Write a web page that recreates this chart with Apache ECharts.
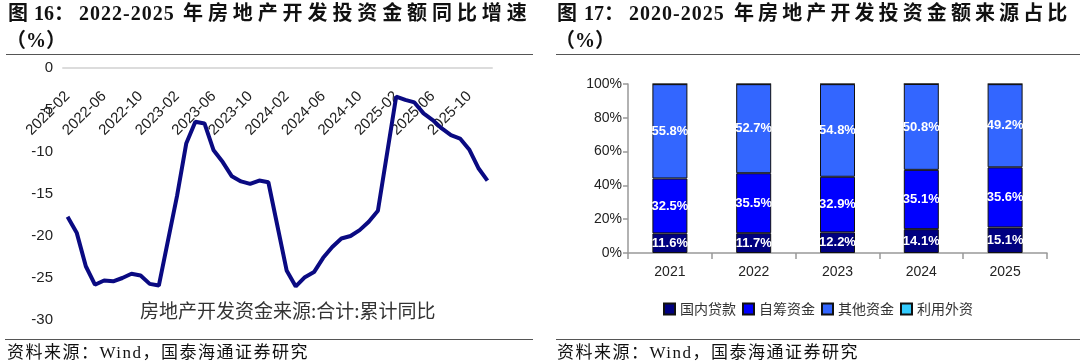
<!DOCTYPE html>
<html>
<head>
<meta charset="utf-8">
<script src="https://cdn.jsdelivr.net/npm/echarts@6/dist/echarts.min.js"></script>
<style>
html,body{margin:0;padding:0;background:#fff;}
#wrap{position:relative;width:1080px;height:364px;overflow:hidden;background:#fff;}
#chart{position:absolute;left:0;top:0;width:1080px;height:364px;}
.tt{position:absolute;font-family:'Liberation Serif','Noto Sans CJK SC',serif;font-weight:bold;font-size:20px;color:#111;line-height:24px;white-space:nowrap;}
.rule{position:absolute;height:1px;background:#555;}
.src{position:absolute;font-family:'Liberation Serif','Noto Sans CJK SC',serif;font-size:17px;color:#111;line-height:20px;letter-spacing:1.5px;white-space:nowrap;}
</style>
</head>
<body>
<div id="wrap">
  <div id="chart"></div>
  <!-- left title -->
  <div class="tt" style="left:8px;top:1px;">图</div>
  <div class="tt" style="left:34px;top:1px;">16：</div>
  <div class="tt" style="left:79px;top:1px;letter-spacing:1px;">2022-2025</div>
  <div class="tt" style="left:183px;top:1px;letter-spacing:4.9px;">年房地产开发投资金额同比增速</div>
  <div class="tt" style="left:6px;top:28px;">（%）</div>
  <div class="rule" style="left:6px;top:54px;width:527px;"></div>
  <!-- right title -->
  <div class="tt" style="left:557px;top:1px;">图</div>
  <div class="tt" style="left:584px;top:1px;">17：</div>
  <div class="tt" style="left:629px;top:1px;letter-spacing:1px;">2020-2025</div>
  <div class="tt" style="left:734px;top:1px;letter-spacing:4.1px;">年房地产开发投资金额来源占比</div>
  <div class="tt" style="left:555px;top:28px;">（%）</div>
  <div class="rule" style="left:556px;top:54px;width:524px;"></div>
  <!-- sources -->
  <div class="rule" style="left:5px;top:339px;width:528px;"></div>
  <div class="src" style="left:7px;top:343px;">资料来源：Wind，国泰海通证券研究</div>
  <div class="rule" style="left:556px;top:339px;width:524px;"></div>
  <div class="src" style="left:557px;top:343px;">资料来源：Wind，国泰海通证券研究</div>
</div>
<script>
// ---------- Left chart data ----------
const lineName = '房地产开发资金来源:合计:累计同比';
const months = [
  '2022-02','2022-03','2022-04','2022-05','2022-06','2022-07','2022-08','2022-09','2022-10','2022-11','2022-12',
  '2023-01','2023-02','2023-03','2023-04','2023-05','2023-06','2023-07','2023-08','2023-09','2023-10','2023-11','2023-12',
  '2024-01','2024-02','2024-03','2024-04','2024-05','2024-06','2024-07','2024-08','2024-09','2024-10','2024-11','2024-12',
  '2025-01','2025-02','2025-03','2025-04','2025-05','2025-06','2025-07','2025-08','2025-09','2025-10','2025-11','2025-12'
];
const fundingYoY = [
  -17.7,-19.6,-23.6,-25.8,-25.3,-25.4,-25.0,-24.5,-24.7,-25.7,-25.9,
  null,-15.2,-9.0,-6.4,-6.6,-9.8,-11.2,-12.9,-13.5,-13.8,-13.4,-13.6,
  null,-24.1,-26.0,-24.9,-24.3,-22.6,-21.3,-20.3,-20.0,-19.3,-18.3,-17.0,
  null,-3.4,-3.8,-4.1,-5.4,-6.2,-7.2,-8.0,-8.4,-9.7,-11.9,-13.4
];

// ---------- Right chart data ----------
const years = ['2021','2022','2023','2024','2025'];
const domesticLoans = [11.6, 11.7, 12.2, 14.1, 15.1];
const selfRaised   = [32.5, 35.5, 32.9, 35.1, 35.6];
const otherFunds   = [55.8, 52.7, 54.8, 50.8, 49.2];
const foreignFunds = [0.1, 0.1, 0.1, 0.0, 0.1];
const barNames = ['国内贷款','自筹资金','其他资金','利用外资'];
const barColors = ['#000080','#0000ff','#3366ff','#33ccff'];

const chart = echarts.init(document.getElementById('chart'));
const sans = "'Liberation Sans', Arial, sans-serif";
const cjk = "'Noto Sans CJK SC', sans-serif";

function barSeries(name, data, color, showLabel) {
  return {
    name: name, type: 'bar', stack: 'src', xAxisIndex: 1, yAxisIndex: 1,
    barWidth: 35, data: data,
    itemStyle: { color: color, borderColor: '#111', borderWidth: 1 },
    label: {
      show: showLabel, position: 'inside', color: '#fff', fontWeight: 'bold',
      fontSize: 13, fontFamily: sans, formatter: '{c}%'
    },
    emphasis: { disabled: true }
  };
}

chart.setOption({
  animation: false,
  textStyle: { fontFamily: sans },
  grid: [
    { left: 63, top: 68, width: 429, height: 252 },
    { left: 628, top: 84, width: 419, height: 169 }
  ],
  legend: [
    {
      data: [{ name: lineName, icon: 'none' }],
      left: 130, top: 296, itemWidth: 0, itemHeight: 0, itemGap: 0,
      textStyle: { fontFamily: cjk, fontSize: 19, color: '#333' },
      selectedMode: false
    },
    {
      data: barNames,
      left: 658, top: 297, itemWidth: 11, itemHeight: 11, itemGap: 6,
      icon: 'rect',
      textStyle: { fontFamily: cjk, fontSize: 14, color: '#333' },
      selectedMode: false
    }
  ],
  xAxis: [
    {
      gridIndex: 0, type: 'category', data: months, boundaryGap: true,
      position: 'bottom', offset: -252,
      axisLine: { show: true, onZero: false, lineStyle: { color: '#dcdcdc', width: 2 } },
      axisTick: { show: false },
      axisLabel: { interval: 3, rotate: 45, fontSize: 15, color: '#222', margin: 26 },
      splitLine: { show: false }
    },
    {
      gridIndex: 1, type: 'category', data: years,
      axisLine: { show: true, lineStyle: { color: '#999', width: 1.5 } },
      axisTick: { show: true, length: 6, lineStyle: { color: '#999', width: 1.5 } },
      axisLabel: { fontSize: 14, color: '#222', margin: 12 },
      splitLine: { show: false }
    }
  ],
  yAxis: [
    {
      gridIndex: 0, type: 'value', min: -30, max: 0, interval: 5,
      axisLine: { show: false }, axisTick: { show: false }, splitLine: { show: false },
      axisLabel: { fontSize: 15, color: '#222', margin: 10 }
    },
    {
      gridIndex: 1, type: 'value', min: 0, max: 100, interval: 20,
      axisLine: { show: true, lineStyle: { color: '#999', width: 1.5 } },
      axisTick: { show: true, length: 5, lineStyle: { color: '#999', width: 1.5 } },
      splitLine: { show: false },
      axisLabel: { fontSize: 14, color: '#222', margin: 6, formatter: '{value}%' }
    }
  ],
  series: [
    {
      name: lineName, type: 'line', xAxisIndex: 0, yAxisIndex: 0,
      data: fundingYoY, connectNulls: true, showSymbol: false, symbol: 'none',
      lineStyle: { color: '#0a0a82', width: 4 }, itemStyle: { color: '#0a0a82' },
      emphasis: { disabled: true }
    },
    barSeries(barNames[0], domesticLoans, barColors[0], true),
    barSeries(barNames[1], selfRaised, barColors[1], true),
    barSeries(barNames[2], otherFunds, barColors[2], true),
    barSeries(barNames[3], foreignFunds, barColors[3], false)
  ]
});
</script>
</body>
</html>
